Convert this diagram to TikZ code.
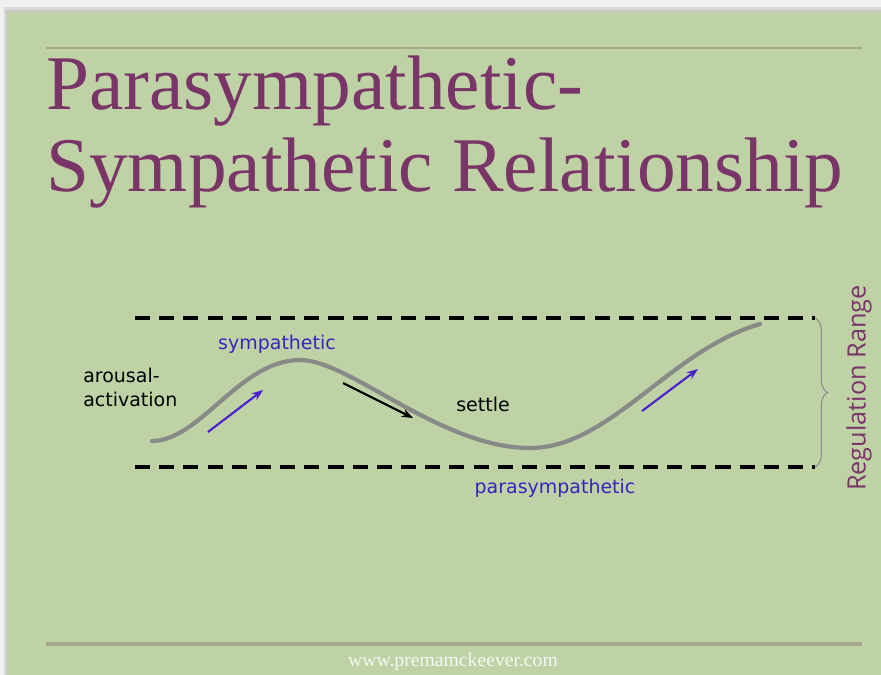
\documentclass[tikz,border=0pt]{standalone}
\usepackage{fontspec}
\setmainfont{Liberation Serif}
\newfontfamily\labelfont{DejaVu Sans}
\newfontfamily\rangefont{Open Sans}
\usetikzlibrary{arrows.meta,decorations.pathreplacing}
\definecolor{slidegreen}{HTML}{BFD2A6}
\definecolor{titlepurple}{HTML}{7A3568}
\definecolor{rulegrey}{HTML}{A9A88F}
\definecolor{curvegrey}{HTML}{878A87}
\definecolor{arrowblue}{HTML}{4A1FD0}
\definecolor{labelblue}{HTML}{3A22C0}
\begin{document}
\begin{tikzpicture}[x=0.025cm,y=-0.025cm,
  titletext/.style={anchor=base west,inner sep=0pt,text=titlepurple,font=\fontsize{55}{60}\selectfont},
  lbl/.style={inner sep=0pt,font=\labelfont\fontsize{13.5}{17}\selectfont},
  rangeline/.style={line width=2.8pt,dash pattern=on 10.7pt off 6.5pt},
  movearrow/.style={-{Stealth[length=8pt,width=6pt]},line width=1.5pt}]
    % slide and shadow
    \fill[gray!12] (0,0) rectangle (881,675);%
    \fill[gray!30] (4,7) rectangle (881,675);%
    \fill[gray!45] (6,10) rectangle (881,675);%
    \fill[slidegreen] (8,12) rectangle (881,675);%
    \useasboundingbox (0,0) rectangle (881,675);%

    % rules
    \draw[rulegrey,line width=0.8pt] (46,48) -- (862,48);%
    \draw[rulegrey,line width=3.5pt] (46,644) -- (862,644);%

    % title
    \node[titletext] (T1) at (46,110) {Parasympathetic-};%
    \node[titletext] (T2) at (46,192) {Sympathetic Relationship};%

    % regulation range
    \coordinate (U1) at (135,318);%
    \coordinate (U2) at (815,318);%
    \coordinate (D1) at (135,467);%
    \coordinate (D2) at (815,467);%
    \draw[rangeline] (U1) -- (U2);%
    \draw[rangeline] (D1) -- (D2);%
    \draw[curvegrey,line width=0.7pt,decorate,decoration={brace,amplitude=9pt}] (U2) -- (D2);%
    \node[rotate=90,inner sep=0pt,text=titlepurple,font=\rangefont\fontsize{18}{20}\selectfont] (R) at (859,388) {Regulation Range};%

    % the curve
    \coordinate (C0) at (152,441);%
    \coordinate (C1) at (300,360);%
    \coordinate (C2) at (530,448);%
    \coordinate (C3) at (760,324);%
    \draw[curvegrey,line width=3pt,line cap=round]
      (C0) .. controls (200,441) and (240,360) .. (C1)
           .. controls (350,360) and (440,448) .. (C2)
           .. controls (610,448) and (670,350) .. (C3);%

    % arrows
    \coordinate (A1) at (208,432);%
    \coordinate (B1) at (263,390);%
    \coordinate (A2) at (343,383);%
    \coordinate (B2) at (413,418);%
    \coordinate (A3) at (642,411);%
    \coordinate (B3) at (698,369);%
    \draw[movearrow,arrowblue] (A1) -- (B1);%
    \draw[movearrow,black] (A2) -- (B2);%
    \draw[movearrow,arrowblue] (A3) -- (B3);%

    % labels
    \node[lbl,text=labelblue] (S) at (277,344) {sympathetic};%
    \node[lbl,text=labelblue] (P) at (555,488) {parasympathetic};%
    \node[lbl,anchor=west,align=left] (AA) at (83,387) {arousal-\\activation};%
    \node[lbl] (ST) at (483,404) {settle};%

    % footer
    \node[inner sep=0pt,text=white!85!slidegreen,font=\fontsize{14}{16}\selectfont] (W) at (453,662) {www.premamckeever.com};%
\end{tikzpicture}
\end{document}
